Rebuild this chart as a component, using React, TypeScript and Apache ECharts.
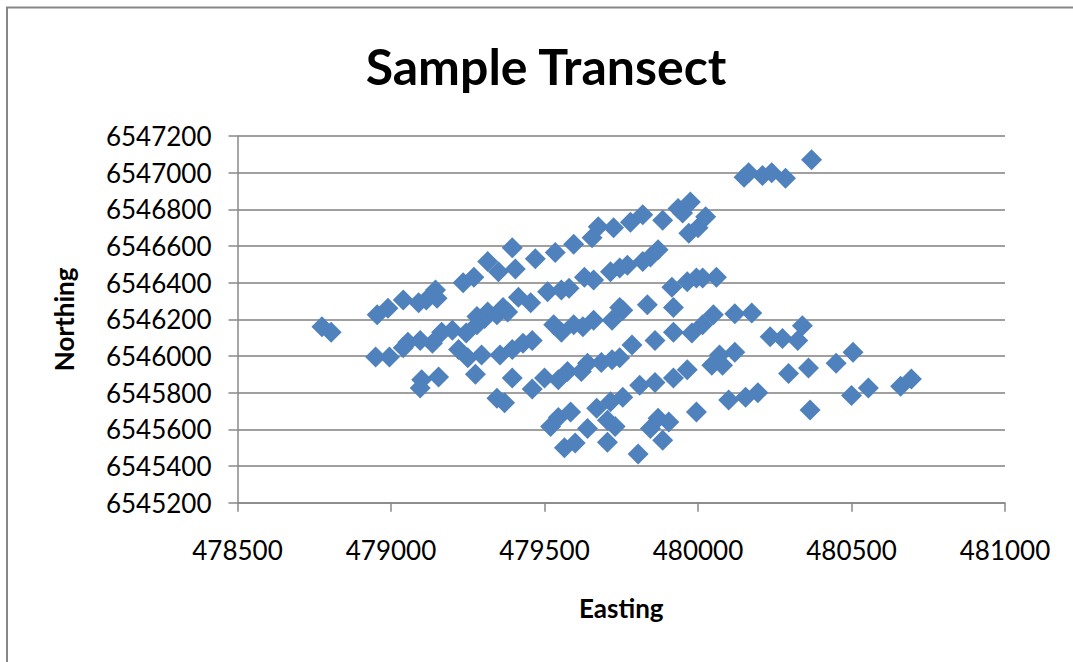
import React, { useEffect, useRef } from "react";
import * as echarts from "echarts";

// Survey sample positions (UTM metres)
const easting: number[] = [
  // north-east group
  480150, 480165, 480210, 480240, 480285, 480370,
  // first transect line
  479535, 479595, 479655, 479675, 479725, 479780, 479820, 479885, 479935, 479950,
  479975, 479970, 480000, 480025, 479395, 479405, 479470, 479315, 479350, 479235,
  479270, 479145, 479150, 479115, 479090, 479040, 478990, 478955,
  // second transect line
  479510, 479455, 479415, 479365, 479315, 479280, 479305, 479345, 479380, 479245,
  479280, 479200, 479165, 479135, 479095, 479055, 479040, 478995, 478950, 478775,
  478805,
  // central lines
  479220, 479250, 479295, 479355, 479395, 479430, 479460, 479275, 479395, 479460,
  479500, 479100, 479095, 479155, 479345, 479370, 479520, 479545, 479530,
  479835, 479920, 480050, 480120, 480175, 479555, 479595, 479625, 479660, 479720,
  479755, 479785, 479860, 479920, 479980, 480015, 480235, 480275, 479545, 479575,
  479620, 479640, 479685, 479720, 479745, 479810, 479860, 479920, 479965, 480045,
  480080, 480070, 480120, 480295, 480100, 480155, 480195, 479995, 479585, 479670,
  479715, 479755, 479640, 479705, 479730, 479705, 479565, 479600, 479845, 479870,
  479905, 479885, 479805,
  // eastern points
  480325, 480340, 480360, 480450, 480505, 480500, 480555, 480660, 480695, 480365,
  // upper-middle line
  479555, 479580, 479630, 479660, 479715, 479745, 479770, 479820, 479845, 479870,
  479915, 479965, 479995, 480015, 480060, 479745,
];

const northing: number[] = [
  6546975, 6547000, 6546985, 6547000, 6546970, 6547070,
  6546565, 6546610, 6546645, 6546705, 6546700, 6546730, 6546770, 6546740, 6546805, 6546780,
  6546840, 6546670, 6546700, 6546760, 6546590, 6546475, 6546530, 6546515, 6546460, 6546400,
  6546430, 6546360, 6546315, 6546305, 6546290, 6546305, 6546260, 6546225,
  6546350, 6546290, 6546320, 6546265, 6546240, 6546215, 6546205, 6546225, 6546240, 6546125,
  6546170, 6546140, 6546130, 6546070, 6546085, 6546075, 6546045, 6545995, 6545995, 6546160,
  6546130,
  6546035, 6545990, 6546005, 6546005, 6546035, 6546070, 6546085, 6545900, 6545880, 6545820,
  6545880, 6545870, 6545825, 6545885, 6545770, 6545745, 6545615, 6545665, 6546170,
  6546280, 6546265, 6546225, 6546230, 6546235, 6546130, 6546170, 6546160, 6546195, 6546195,
  6546250, 6546060, 6546085, 6546130, 6546125, 6546170, 6546105, 6546095, 6545870, 6545915,
  6545915, 6545960, 6545965, 6545980, 6545990, 6545840, 6545855, 6545880, 6545925, 6545950,
  6545950, 6546005, 6546020, 6545905, 6545760, 6545775, 6545800, 6545695, 6545695, 6545715,
  6545750, 6545775, 6545605, 6545650, 6545615, 6545530, 6545500, 6545525, 6545605, 6545660,
  6545640, 6545540, 6545465,
  6546085, 6546165, 6545935, 6545960, 6546020, 6545785, 6545825, 6545835, 6545875, 6545705,
  6546360, 6546370, 6546430, 6546415, 6546460, 6546480, 6546495, 6546515, 6546540, 6546580,
  6546375, 6546405, 6546425, 6546425, 6546430, 6546265,
];

const eastingTicks = { min: 478500, max: 481000, step: 500 };
const northingTicks = { min: 6545200, max: 6547200, step: 200 };

const FONT = "Lato";

export default function App() {
  const ref = useRef<HTMLDivElement>(null);

  useEffect(() => {
    document.body.style.margin = "0";
    if (!ref.current) return;
    const chart = echarts.init(ref.current, undefined, { renderer: "svg" });
    const points = easting.map((e, i) => [e, northing[i]]);

    chart.setOption({
      animation: false,
      backgroundColor: "#ffffff",
      title: {
        text: "Sample Transect",
        left: 541,
        top: 36,
        textAlign: "center",
        textStyle: {
          fontFamily: FONT,
          fontWeight: "bold",
          fontSize: 50,
          color: "#000000",
        },
      },
      graphic: [
        {
          type: "rect",
          shape: { x: 7, y: 7.5, width: 1100, height: 700 },
          style: { fill: "none", stroke: "#878787", lineWidth: 2 },
          silent: true,
        },
      ],
      grid: { left: 237.5, right: 68, top: 136, bottom: 159.3, containLabel: false },
      xAxis: {
        type: "value",
        min: eastingTicks.min,
        max: eastingTicks.max,
        interval: eastingTicks.step,
        name: "Easting",
        nameLocation: "middle",
        nameGap: 92,
        nameTextStyle: { fontFamily: FONT, fontWeight: "bold", fontSize: 26, color: "#000" },
        axisLine: { show: true, lineStyle: { color: "#888888", width: 1.5 } },
        axisTick: { show: true, length: 9, lineStyle: { color: "#888888", width: 1.5 } },
        axisLabel: {
          fontFamily: FONT,
          fontSize: 26,
          color: "#000",
          margin: 34,
          formatter: (v: number) => String(v),
        },
        splitLine: { show: false },
      },
      yAxis: {
        type: "value",
        min: northingTicks.min,
        max: northingTicks.max,
        interval: northingTicks.step,
        name: "Northing",
        nameLocation: "middle",
        nameGap: 161,
        nameRotate: 90,
        nameTextStyle: { fontFamily: FONT, fontWeight: "bold", fontSize: 26, color: "#000" },
        axisLine: { show: true, lineStyle: { color: "#888888", width: 1.5 } },
        axisTick: { show: true, length: 9, lineStyle: { color: "#888888", width: 1.5 } },
        axisLabel: {
          fontFamily: FONT,
          fontSize: 26,
          color: "#000",
          margin: 26,
          formatter: (v: number) => String(v),
        },
        splitLine: { show: true, lineStyle: { color: "#a0a0a0", width: 2 } },
      },
      series: [
        {
          type: "scatter",
          data: points,
          symbol: "diamond",
          symbolSize: 21,
          itemStyle: { color: "#4F81BD", opacity: 1 },
        },
      ],
    });

    return () => chart.dispose();
  }, []);

  return <div ref={ref} style={{ width: 1073, height: 662 }} />;
}
